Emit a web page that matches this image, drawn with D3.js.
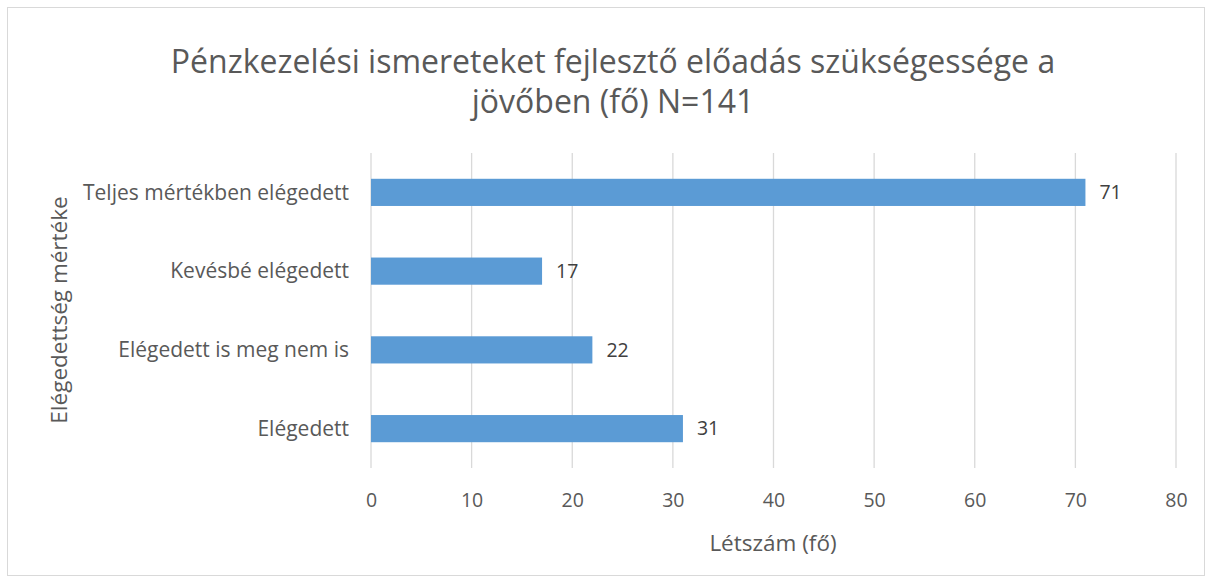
<!DOCTYPE html>
<html>
<head>
<meta charset="utf-8">
<script src="https://cdn.jsdelivr.net/npm/d3@7"></script>
<style>
	body { margin: 0; background: #fff; }
	text { font-family: "Open Sans", sans-serif; }
</style>
</head>
<body>
<div id="chart"></div>
<script>
var categories = ["Teljes mértékben elégedett", "Kevésbé elégedett", "Elégedett is meg nem is", "Elégedett"];
var counts = [71, 17, 22, 31];
var xTicks = [0, 10, 20, 30, 40, 50, 60, 70, 80];
var titleLines = ["Pénzkezelési ismereteket fejlesztő előadás szükségessége a", "jövőben (fő) N=141"];
var xTitle = "Létszám (fő)";
var yTitle = "Elégedettség mértéke";

var width = 1213;
var height = 583;
var plot = {left: 371, right: 1176, top: 153, bottom: 468};

var svg = d3.select("#chart").append("svg")
	.attr("width", width)
	.attr("height", height);

// chart border
svg.append("rect")
	.attr("x", 7.5).attr("y", 7.5)
	.attr("width", 1197).attr("height", 568)
	.attr("fill", "#fff")
	.attr("stroke", "#d9d9d9");

// scales
var x = d3.scaleLinear()
	.domain([0, 80])
	.range([plot.left, plot.right]);

var y = d3.scaleBand()
	.domain(categories)
	.range([plot.top, plot.bottom])
	.paddingInner(0.655)
	.paddingOuter(0.3275);

// gridlines
svg.append("g").selectAll("line").data(xTicks).enter()
	.append("line")
	.attr("x1", function(d) { return x(d); })
	.attr("x2", function(d) { return x(d); })
	.attr("y1", plot.top)
	.attr("y2", plot.bottom)
	.attr("stroke", "#d9d9d9")
	.attr("stroke-width", 1.3);

// bars
svg.append("g").selectAll("rect").data(counts).enter()
	.append("rect")
	.attr("x", x(0))
	.attr("y", function(d, i) { return y(categories[i]); })
	.attr("width", function(d) { return x(d) - x(0); })
	.attr("height", y.bandwidth())
	.attr("fill", "#5b9bd5");

// value labels
svg.append("g").selectAll("text").data(counts).enter()
	.append("text")
	.attr("x", function(d) { return x(d) + 14; })
	.attr("y", function(d, i) { return y(categories[i]) + y.bandwidth() / 2; })
	.attr("dy", "0.35em")
	.attr("font-size", 19.5)
	.attr("fill", "#404040")
	.text(function(d) { return d; });

// category labels
svg.append("g").selectAll("text").data(categories).enter()
	.append("text")
	.attr("x", 349)
	.attr("y", function(d) { return y(d) + y.bandwidth() / 2; })
	.attr("dy", "0.35em")
	.attr("text-anchor", "end")
	.attr("font-size", 21)
	.attr("fill", "#595959")
	.text(function(d) { return d; });

// x tick labels
var xAxis = d3.axisBottom(x).tickValues(xTicks).tickSize(0).tickPadding(0);
var gx = svg.append("g")
	.attr("transform", "translate(0," + 507 + ")")
	.call(xAxis);
gx.select(".domain").remove();
gx.selectAll("text")
	.attr("dy", 0)
	.attr("y", 0)
	.attr("font-family", "Open Sans, sans-serif")
	.attr("font-size", 19.5)
	.attr("fill", "#595959");

// axis titles
svg.append("text")
	.attr("x", 773).attr("y", 551)
	.attr("text-anchor", "middle")
	.attr("font-size", 22.5)
	.attr("fill", "#595959")
	.text(xTitle);

svg.append("text")
	.attr("transform", "translate(67,310) rotate(-90)")
	.attr("text-anchor", "middle")
	.attr("font-size", 22.5)
	.attr("fill", "#595959")
	.text(yTitle);

// title
svg.append("g").selectAll("text").data(titleLines).enter()
	.append("text")
	.attr("x", 613)
	.attr("y", function(d, i) { return 73 + i * 40; })
	.attr("text-anchor", "middle")
	.attr("font-size", 32)
	.attr("fill", "#595959")
	.text(function(d) { return d; });
</script>
</body>
</html>
